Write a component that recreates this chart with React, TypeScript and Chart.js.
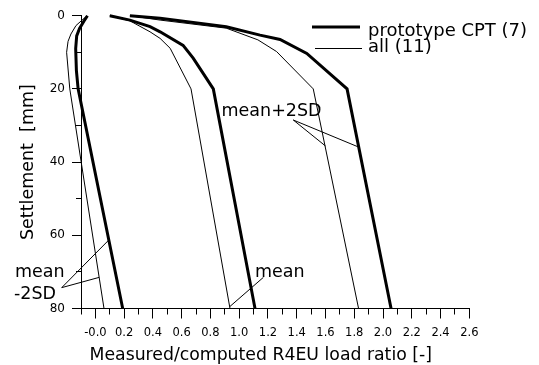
import React, { useEffect, useRef } from "react";
import { Chart, registerables } from "chart.js";

Chart.register(...registerables);

const FONT_FAMILY = '"DejaVu Sans", "Liberation Sans", sans-serif';

// Measured/computed load ratio envelopes against settlement (mm)
const settlementProtoMinus2SD = [0, 1.5, 3.5, 5.5, 9, 15, 20, 80];
const ratioProtoMinus2SD = [-0.055, -0.08, -0.11, -0.13, -0.137, -0.132, -0.12, 0.19];

const settlementAllMinus2SD = [0, 2.7, 5, 7, 10, 20, 80];
const ratioAllMinus2SD = [-0.058, -0.135, -0.17, -0.19, -0.2, -0.178, 0.06];

const settlementProtoMean = [0, 1.2, 3, 4.4, 8.1, 11.6, 20, 80];
const ratioProtoMean = [0.1, 0.24, 0.38, 0.45, 0.61, 0.68, 0.82, 1.11];

const settlementAllMean = [0, 1.4, 4.4, 6.2, 8.9, 20, 80];
const ratioAllMean = [0.1, 0.24, 0.38, 0.45, 0.52, 0.665, 0.936];

const settlementProtoPlus2SD = [0, 0.7, 3.0, 5.3, 6.5, 10.3, 20, 80];
const ratioProtoPlus2SD = [0.24, 0.45, 0.91, 1.145, 1.284, 1.47, 1.75, 2.056];

const settlementAllPlus2SD = [0, 1.2, 3.4, 6.6, 9.8, 20, 80];
const ratioAllPlus2SD = [0.24, 0.45, 0.91, 1.13, 1.26, 1.515, 1.83];

// Leader lines from the curve labels to the curves
const settlementPlus2SDLeader = [35.6, 28.5, 35.9];
const ratioPlus2SDLeader = [1.6, 1.376, 1.831];
const settlementMeanLeader = [71.5, 79.5];
const ratioMeanLeader = [1.168, 0.934];
const settlementMinus2SDLeader = [61.3, 74.3, 71.5];
const ratioMinus2SDLeader = [0.093, -0.234, 0.026];

// Axis ticks
const xMajorTicks = [0, 0.2, 0.4, 0.6, 0.8, 1.0, 1.2, 1.4, 1.6, 1.8, 2.0, 2.2, 2.4, 2.6];
const xTickLabels = ["-0.0", "0.2", "0.4", "0.6", "0.8", "1.0", "1.2", "1.4", "1.6", "1.8", "2.0", "2.2", "2.4", "2.6"];
const xMinorTicks = [-0.1, 0.1, 0.3, 0.5, 0.7, 0.9, 1.1, 1.3, 1.5, 1.7, 1.9, 2.1, 2.3, 2.5];
const yMajorTicks = [0, 20, 40, 60, 80];
const yTickLabels = ["0", "20", "40", "60", "80"];
const yMinorTicks = [10, 30, 50, 70];

const legendLabels = ["prototype CPT (7)", "all (11)"];
const xTitle = "Measured/computed R4EU load ratio [-]";
const yTitle = "Settlement  [mm]";

const toPoints = (xs: number[], ys: number[]) => xs.map((x, i) => ({ x, y: ys[i] }));

const curve = (xs: number[], ys: number[], width: number) => ({
  data: toPoints(xs, ys),
  showLine: true,
  borderColor: "#000",
  borderWidth: width,
  pointRadius: 0,
  pointHoverRadius: 0,
  tension: 0,
  fill: false,
  clip: false as any,
});

const decorations = {
  id: "decorations",
  afterDraw(chart: any) {
    const { ctx, chartArea, scales } = chart;
    const xs = scales.x;
    const ys = scales.y;
    const align = (p: number) => Math.round(p - 0.5) + 0.5;
    ctx.save();
    ctx.strokeStyle = "#000";
    ctx.fillStyle = "#000";
    ctx.lineWidth = 1;

    // minor ticks
    ctx.beginPath();
    for (const v of xMinorTicks) {
      const px = align(xs.getPixelForValue(v));
      ctx.moveTo(px, chartArea.bottom);
      ctx.lineTo(px, chartArea.bottom + 6);
    }
    for (const v of yMinorTicks) {
      const py = align(ys.getPixelForValue(v));
      ctx.moveTo(chartArea.left - 5, py);
      ctx.lineTo(chartArea.left, py);
    }
    ctx.stroke();

    // legend
    ctx.lineCap = "butt";
    ctx.lineWidth = 3;
    ctx.beginPath();
    ctx.moveTo(312, 27);
    ctx.lineTo(360, 27);
    ctx.stroke();
    ctx.lineWidth = 1;
    ctx.beginPath();
    ctx.moveTo(315, 48.5);
    ctx.lineTo(362, 48.5);
    ctx.stroke();
    ctx.font = `18px ${FONT_FAMILY}`;
    ctx.textAlign = "left";
    ctx.textBaseline = "alphabetic";
    ctx.fillText(legendLabels[0], 368, 36);
    ctx.fillText(legendLabels[1], 368, 51.5);

    // curve labels
    ctx.font = `17.5px ${FONT_FAMILY}`;
    ctx.fillText("mean+2SD", 221.5, 115.5);
    ctx.fillText("mean", 255, 277.3);
    ctx.fillText("mean", 15, 277.3);
    ctx.fillText("-2SD", 14, 299.3);

    // axis titles
    ctx.font = `17.3px ${FONT_FAMILY}`;
    ctx.textAlign = "left";
    ctx.fillText(xTitle, 89.5, 360);

    ctx.font = `17.5px ${FONT_FAMILY}`;
    ctx.textAlign = "center";
    ctx.translate(33, (chartArea.top + chartArea.bottom) / 2);
    ctx.rotate(-Math.PI / 2);
    ctx.fillText(yTitle, 0, 0);
    ctx.restore();
  },
};

export default function App() {
  const canvasRef = useRef<HTMLCanvasElement | null>(null);

  useEffect(() => {
    const canvas = canvasRef.current;
    if (!canvas) return;
    const chart = new Chart(canvas, {
      type: "scatter",
      data: {
        datasets: [
          curve(ratioProtoMinus2SD, settlementProtoMinus2SD, 3),
          curve(ratioAllMinus2SD, settlementAllMinus2SD, 1),
          curve(ratioProtoMean, settlementProtoMean, 3),
          curve(ratioAllMean, settlementAllMean, 1),
          curve(ratioProtoPlus2SD, settlementProtoPlus2SD, 3),
          curve(ratioAllPlus2SD, settlementAllPlus2SD, 1),
          curve(ratioPlus2SDLeader, settlementPlus2SDLeader, 1),
          curve(ratioMeanLeader, settlementMeanLeader, 1),
          curve(ratioMinus2SDLeader, settlementMinus2SDLeader, 1),
        ] as any,
      },
      options: {
        responsive: false,
        animation: false,
        devicePixelRatio: 1,
        events: [],
        layout: { padding: { left: 0, top: 15.7, right: 539 - 469.3, bottom: 0 } },
        plugins: {
          legend: { display: false },
          tooltip: { enabled: false },
          title: { display: false },
        },
        scales: {
          x: {
            type: "linear",
            min: -0.1,
            max: 2.6,
            afterBuildTicks: (s: any) => {
              s.ticks = xMajorTicks.map((value) => ({ value }));
            },
            afterFit: (s: any) => {
              s.height = 365 - 308.5;
            },
            ticks: {
              autoSkip: false,
              maxRotation: 0,
              padding: 8,
              color: "#000",
              font: { family: FONT_FAMILY, size: 11.5 },
              callback: (_v: any, i: number) => xTickLabels[i],
            },
            grid: {
              drawOnChartArea: false,
              drawTicks: true,
              tickLength: 10,
              tickColor: "#000",
              tickWidth: 1,
            },
            border: { display: true, color: "#000", width: 1 },
          },
          y: {
            type: "linear",
            reverse: true,
            min: 0,
            max: 80,
            afterBuildTicks: (s: any) => {
              s.ticks = yMajorTicks.map((value) => ({ value }));
            },
            afterFit: (s: any) => {
              s.width = 81;
            },
            ticks: {
              autoSkip: false,
              padding: 7,
              color: "#000",
              font: { family: FONT_FAMILY, size: 12 },
              callback: (_v: any, i: number) => yTickLabels[i],
            },
            grid: {
              drawOnChartArea: false,
              drawTicks: true,
              tickLength: 9,
              tickColor: "#000",
              tickWidth: 1,
            },
            border: { display: true, color: "#000", width: 1 },
          },
        },
      } as any,
      plugins: [decorations],
    });
    return () => chart.destroy();
  }, []);

  return (
    <div style={{ position: "fixed", left: 0, top: 0, width: 539, height: 365, background: "#fff" }}>
      <canvas ref={canvasRef} width={539} height={365} style={{ display: "block" }} />
    </div>
  );
}
